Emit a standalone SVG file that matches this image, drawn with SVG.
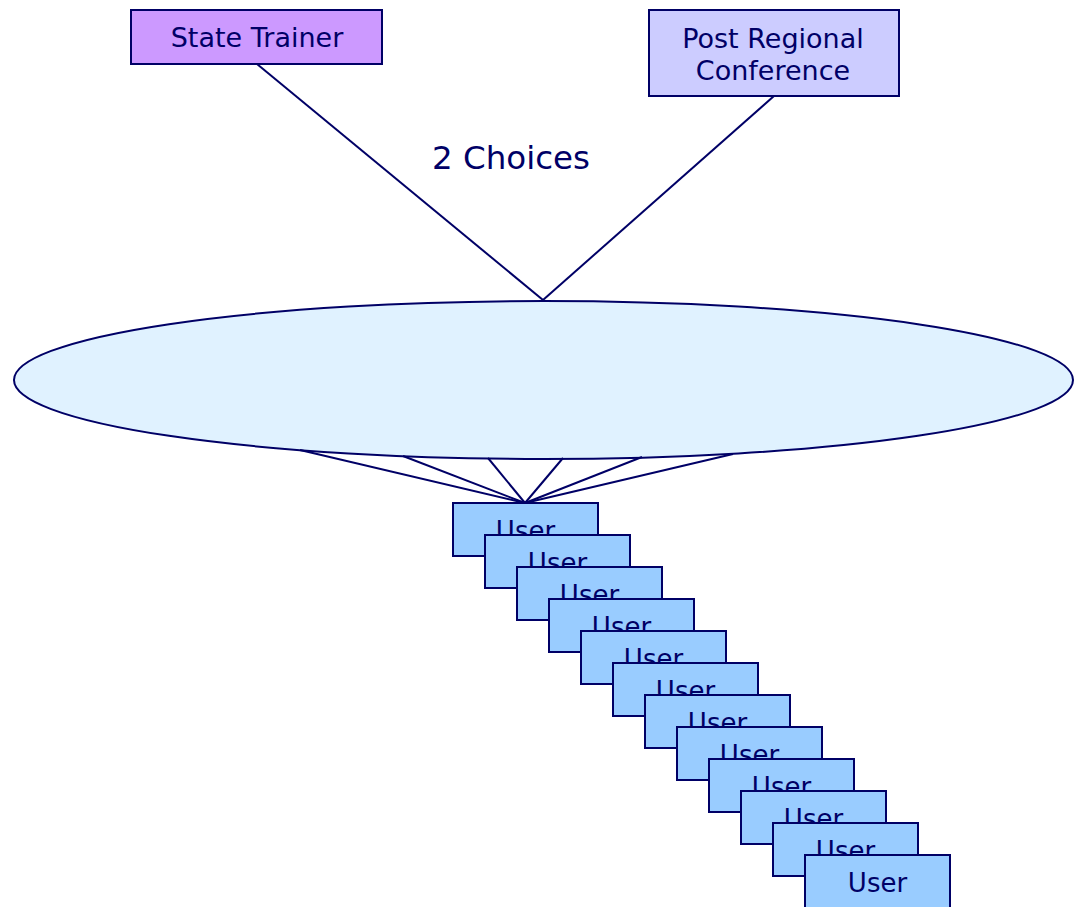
<svg xmlns="http://www.w3.org/2000/svg" width="1075" height="907" viewBox="0 0 1075 907">
<style>
.t{font-family:"DejaVu Sans","Liberation Sans",sans-serif;font-size:26px;fill:#000066;text-anchor:middle}
.h{font-size:27px}
.b{stroke:#000066;stroke-width:2}
.u{fill:#99CCFF;stroke:#000066;stroke-width:2}
.c line{stroke:#000066;stroke-width:2}
</style>
<rect width="1075" height="907" fill="#fff"/>
<g class="c" id="connectors">
<line x1="257" y1="64" x2="543" y2="300"/>
<line x1="774" y1="96" x2="543" y2="300"/>
</g>
<g id="hub">
<ellipse cx="543.5" cy="380" rx="529.5" ry="79" fill="#E0F2FF" class="b"/>
</g>
<g class="c" id="fan">
<line x1="300" y1="450" x2="525" y2="503"/>
<line x1="403" y1="456" x2="525" y2="503"/>
<line x1="488" y1="458" x2="525" y2="503"/>
<line x1="563" y1="458" x2="525" y2="503"/>
<line x1="642" y1="457" x2="525" y2="503"/>
<line x1="733" y1="454" x2="525" y2="503"/>
</g>
<g id="state-trainer">
<rect x="131" y="10" width="251" height="54" fill="#CC99FF" class="b"/>
<text class="t h" x="257" y="47">State Trainer</text>
</g>
<g id="post-regional">
<rect x="649" y="10" width="250" height="86" fill="#CCCCFF" class="b"/>
<text class="t h" x="773" y="48">Post Regional</text>
<text class="t h" x="773" y="80">Conference</text>
</g>
<g id="label-choices">
<text class="t" x="511" y="169" style="font-size:32.5px">2 Choices</text>
</g>
<g id="user1"><rect class="u" x="453" y="503" width="145" height="53"/><text class="t" x="525.5" y="540">User</text></g>
<g id="user2"><rect class="u" x="485" y="535" width="145" height="53"/><text class="t" x="557.5" y="572">User</text></g>
<g id="user3"><rect class="u" x="517" y="567" width="145" height="53"/><text class="t" x="589.5" y="604">User</text></g>
<g id="user4"><rect class="u" x="549" y="599" width="145" height="53"/><text class="t" x="621.5" y="636">User</text></g>
<g id="user5"><rect class="u" x="581" y="631" width="145" height="53"/><text class="t" x="653.5" y="668">User</text></g>
<g id="user6"><rect class="u" x="613" y="663" width="145" height="53"/><text class="t" x="685.5" y="700">User</text></g>
<g id="user7"><rect class="u" x="645" y="695" width="145" height="53"/><text class="t" x="717.5" y="732">User</text></g>
<g id="user8"><rect class="u" x="677" y="727" width="145" height="53"/><text class="t" x="749.5" y="764">User</text></g>
<g id="user9"><rect class="u" x="709" y="759" width="145" height="53"/><text class="t" x="781.5" y="796">User</text></g>
<g id="user10"><rect class="u" x="741" y="791" width="145" height="53"/><text class="t" x="813.5" y="828">User</text></g>
<g id="user11"><rect class="u" x="773" y="823" width="145" height="53"/><text class="t" x="845.5" y="860">User</text></g>
<g id="user12"><rect class="u" x="805" y="855" width="145" height="53"/><text class="t" x="877.5" y="892">User</text></g>
</svg>
